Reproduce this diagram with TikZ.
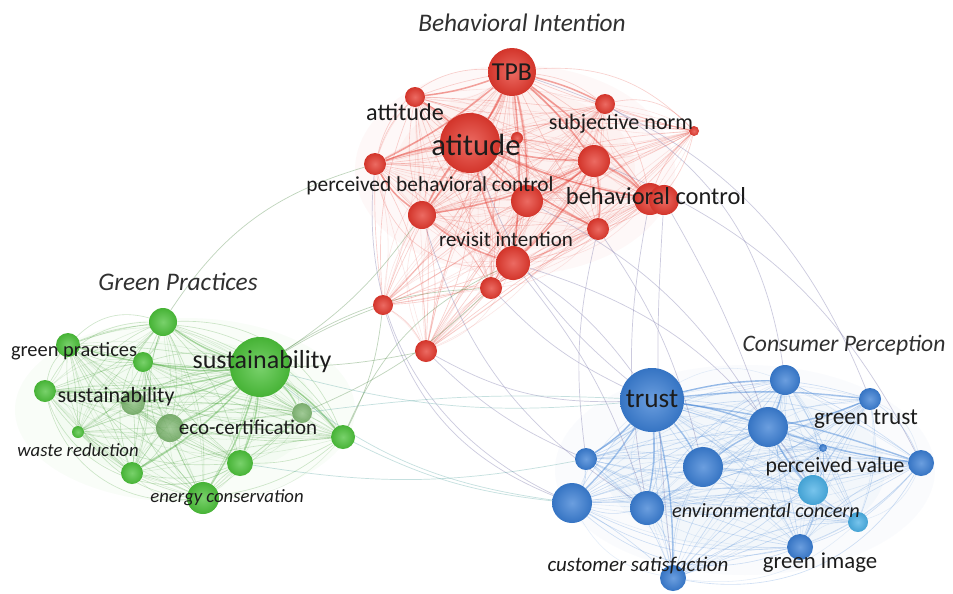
\documentclass[tikz,border=0pt]{standalone}
\usepackage{fontspec}
\setmainfont{Carlito}
\usetikzlibrary{calc}
\pgfdeclarelayer{paper}
\pgfdeclarelayer{background}
\pgfdeclarelayer{haze}
\pgfsetlayers{paper,haze,background,main}
\definecolor{redc}{HTML}{E5392E}
\definecolor{greenc}{HTML}{4CC23A}
\definecolor{bluec}{HTML}{3A7ED4}
\definecolor{lbluec}{HTML}{4AB0E6}
\definecolor{dimg}{HTML}{6FAE60}
\definecolor{txt}{HTML}{1C1C1C}
\definecolor{hd}{HTML}{303030}
\newcommand\fz[1]{\fontsize{#1pt}{#1pt}\selectfont}
\tikzset{
  ball/.style 2 args={circle,inner sep=0pt,minimum size=#2*0.025cm,
     shading=radial,inner color=#1!75!white,outer color=#1!92!black},
  rn/.style={ball={redc}{#1}},
  gn/.style={ball={greenc}{#1}},
  bn/.style={ball={bluec}{#1}},
  lbn/.style={ball={lbluec}{#1}},
  dgn/.style={ball={dimg}{#1},opacity=.85},
  redge/.style={draw=redc!85!white,opacity=.28,line width=.45pt},
  redge2/.style={draw=redc!80!white,opacity=.16,line width=.4pt},
  rhub/.style={draw=redc,opacity=.45,line width=1.1pt},
  gedge/.style={draw=greenc!80!black,opacity=.25,line width=.45pt},
  gedge2/.style={draw=greenc!80!black,opacity=.15,line width=.4pt},
  ghub/.style={draw=greenc!85!black,opacity=.4,line width=1pt},
  bedge/.style={draw=bluec!80!white,opacity=.3,line width=.45pt},
  bedge2/.style={draw=bluec!80!white,opacity=.17,line width=.4pt},
  bhub/.style={draw=bluec,opacity=.45,line width=1pt},
  xrb/.style={draw=bluec!70!redc,opacity=.35,line width=.5pt},
  xrg/.style={draw=greenc!60!black,opacity=.3,line width=.5pt},
  xgb/.style={draw=bluec!60!greenc,opacity=.3,line width=.5pt},
  lab/.style={text=txt,inner sep=0pt,anchor=center},
  head/.style={text=hd,inner sep=0pt,anchor=center,font=\itshape\fz{18}},
}
\begin{document}
\begin{tikzpicture}[x=0.025cm,y=-0.025cm]
\useasboundingbox (0,0) rectangle (953,593);
\begin{pgfonlayer}{paper}
\fill[white] (0,0) rectangle (953,593);
\end{pgfonlayer}
% ---------- red cluster nodes
\node[rn=48] (r1) at (512,72) {};
\node[rn=20] (r2) at (415,97) {};
\node[rn=60] (r3) at (470,143) {};
\node[rn=12] (r4) at (517,138) {};
\node[rn=20] (r5) at (605,104) {};
\node[rn=10] (r6) at (694,131) {};
\node[rn=22] (r7) at (375,164) {};
\node[rn=32] (r8) at (594,161) {};
\node[rn=32] (r9a) at (650,199) {};
\node[rn=30] (r9b) at (664,200) {};
\node[rn=32] (r10) at (527,201) {};
\node[rn=28] (r11) at (422,215) {};
\node[rn=22] (r12) at (598,229) {};
\node[rn=34] (r13) at (513,263) {};
\node[rn=22] (r14) at (491,288) {};
\node[rn=20] (r15) at (383,305) {};
\node[rn=22] (r16) at (426,351) {};
% ---------- green cluster nodes
\node[gn=28] (g1) at (163,322) {};
\node[gn=24] (g2) at (68,345) {};
\node[gn=20] (g3) at (143,362) {};
\node[gn=60] (g4) at (260,367) {};
\node[gn=22] (g5) at (45,391) {};
\node[dgn=24] (g6) at (133,403) {};
\node[dgn=28] (g7) at (170,428) {};
\node[dgn=20] (g8) at (302,413) {};
\node[gn=24] (g9) at (343,437) {};
\node[gn=12] (g10) at (78,432) {};
\node[gn=26] (g11) at (240,463) {};
\node[gn=22] (g12) at (132,473) {};
\node[gn=32] (g13) at (203,498) {};
% ---------- blue cluster nodes
\node[bn=64] (b1) at (652,400) {};
\node[bn=30] (b2) at (785,380) {};
\node[bn=22] (b3) at (870,399) {};
\node[bn=40] (b4) at (768,427) {};
\node[bn=8] (b5) at (823,448) {};
\node[bn=26] (b6) at (921,463) {};
\node[bn=22] (b7) at (586,459) {};
\node[bn=40] (b8) at (703,467) {};
\node[lbn=30] (b9) at (813,490) {};
\node[bn=40] (b10) at (572,503) {};
\node[bn=34] (b11) at (647,508) {};
\node[lbn=20] (b12) at (858,522) {};
\node[bn=26] (b13) at (800,547) {};
\node[bn=26] (b14) at (673,578) {};
% ---------- haze
\begin{pgfonlayer}{haze}
\fill[redc,opacity=.03] (515,170) ellipse [x radius=160,y radius=105];
\fill[redc,opacity=.03] (515,170) ellipse [x radius=120,y radius=80];
\fill[greenc,opacity=.03] (185,410) ellipse [x radius=170,y radius=92];
\fill[greenc,opacity=.03] (185,410) ellipse [x radius=130,y radius=70];
\fill[bluec,opacity=.025] (745,470) ellipse [x radius=190,y radius=105];
\fill[bluec,opacity=.03] (745,470) ellipse [x radius=140,y radius=80];
\end{pgfonlayer}
% ---------- edges
\begin{pgfonlayer}{background}
\foreach \a [count=\i] in {r1,r2,r3,r4,r5,r6,r7,r8,r9a,r10,r11,r12,r13,r14,r15,r16}{
  \foreach \b [count=\j] in {r1,r2,r3,r4,r5,r6,r7,r8,r9a,r10,r11,r12,r13,r14,r15,r16}{
    \ifnum\j>\i
      \pgfmathsetmacro\bd{mod(\i+2*\j,4)*9-13}
      \draw[redge] (\a) to[bend left=\bd] (\b);
      \pgfmathsetmacro\be{mod(3*\i+\j,5)*11-22}
      \draw[redge2] (\a) to[bend right=\be] (\b);
    \fi
  }
}
\foreach \b in {r2,r3,r5,r7,r8,r9a,r10,r11,r13}{\draw[rhub] (r1) to[bend left=6] (\b);}
\foreach \b in {r7,r8,r9a,r10,r11,r12,r13,r2}{\draw[rhub] (r3) to[bend right=6] (\b);}
\foreach \b in {r9a,r10,r11,r12,r13}{\draw[rhub] (r8) to[bend left=8] (\b);}
\draw[rhub] (r11) to[bend right=10] (r13);
\draw[rhub] (r7) to[bend right=12] (r11);
\draw[redge] (r5) to[bend left=30] (r6);
\draw[redge] (r1) to[bend left=25] (r6);
\draw[redge] (r7) to[bend left=40] (r1);
\draw[redge] (r7) to[bend right=45] (r13);
\draw[redge] (r6) to[bend left=30] (r12);
\foreach \a [count=\i] in {g1,g2,g3,g4,g5,g6,g7,g8,g9,g10,g11,g12,g13}{
  \foreach \b [count=\j] in {g1,g2,g3,g4,g5,g6,g7,g8,g9,g10,g11,g12,g13}{
    \ifnum\j>\i
      \pgfmathsetmacro\bd{mod(\i+2*\j,4)*10-15}
      \draw[gedge] (\a) to[bend left=\bd] (\b);
      \pgfmathsetmacro\be{mod(3*\i+\j,5)*12-24}
      \draw[gedge2] (\a) to[bend right=\be] (\b);
    \fi
  }
}
\foreach \b in {g1,g3,g6,g7,g8,g9,g11,g12,g13,g2,g5}{\draw[ghub] (g4) to[bend left=8] (\b);}
\foreach \b in {g2,g5,g12,g13,g10}{\draw[gedge] (g1) to[bend right=30] (\b);}
\draw[gedge] (g2) to[bend right=45] (g13);
\draw[gedge] (g5) to[bend right=40] (g13);
\draw[gedge] (g5) to[bend right=50] (g11);
\draw[gedge] (g2) to[bend left=40] (g9);
\draw[gedge] (g1) to[bend left=35] (g9);
\foreach \a [count=\i] in {b1,b2,b3,b4,b5,b6,b7,b8,b9,b10,b11,b12,b13,b14}{
  \foreach \b [count=\j] in {b1,b2,b3,b4,b5,b6,b7,b8,b9,b10,b11,b12,b13,b14}{
    \ifnum\j>\i
      \pgfmathsetmacro\bd{mod(\i+2*\j,4)*10-15}
      \draw[bedge] (\a) to[bend left=\bd] (\b);
      \pgfmathsetmacro\be{mod(3*\i+\j,5)*12-24}
      \draw[bedge2] (\a) to[bend right=\be] (\b);
    \fi
  }
}
\foreach \b in {b2,b4,b7,b8,b10,b11,b14,b6,b3}{\draw[bhub] (b1) to[bend left=6] (\b);}
\foreach \b in {b2,b3,b6,b8,b9}{\draw[bhub] (b4) to[bend right=6] (\b);}
\draw[bedge] (b10) to[bend right=40] (b6);
\draw[bedge] (b7) to[bend left=35] (b6);
\draw[bedge] (b10) to[bend right=30] (b13);
\draw[bedge] (b2) to[bend left=30] (b13);
\draw[bedge] (b14) to[bend right=35] (b6);
% inter-cluster
\draw[xrb] (r13) to[bend left=10] (b1);
\draw[xrb] (r14) to[bend right=10] (b1);
\draw[xrb] (r10) to[bend left=15] (b4);
\draw[xrb] (r12) to[bend left=10] (b8);
\draw[xrb] (r9b) to[bend left=5] (b4);
\draw[xrb] (r9b) to[bend right=5] (b14);
\draw[xrb] (r8) to[bend left=20] (b6);
\draw[xrb] (r11) to[bend right=20] (b11);
\draw[xrb] (r16) to[bend right=15] (b1);
\draw[xrb] (r15) to[bend right=25] (b10);
\draw[xrb] (r12) to[bend right=10] (b7);
\draw[xrb] (r5) to[bend left=25] (b2);
\draw[xrb] (r7) to[bend right=35] (b10);
\draw[xrb] (r13) to[bend left=20] (b9);
\draw[xrb] (r9a) to[bend right=10] (b11);
\draw[xrb] (r3) to[bend right=15] (b1);
\draw[xrb] (r1) to[bend left=25] (b3);
\draw[xrb] (r16) to[bend right=10] (b7);
\draw[xrg] (r15) to[bend right=5] (g4);
\draw[xrg] (r16) to[bend left=5] (g4);
\draw[xrg] (r14) to[bend right=15] (g4);
\draw[xrg] (r13) to[bend right=20] (g9);
\draw[xrg] (r7) to[bend right=20] (g1);
\draw[xrg] (r11) to[bend left=10] (g4);
\draw[xrg] (r15) to[bend left=10] (g9);
\draw[xrg] (r14) to[bend left=10] (g8);
\draw[xrb] (r13) to[bend left=10] (b11);
\draw[xgb] (g4) to[bend right=10] (b1);
\draw[xgb] (g4) to[bend right=15] (b10);
\draw[xgb] (g9) to[bend right=10] (b10);
\draw[xgb] (g11) to[bend right=10] (b7);
\draw[xgb] (g8) to[bend left=5] (b1);
\end{pgfonlayer}
% ---------- labels
\node[head] (hBI) at (522,23) {Behavioral Intention};
\node[head] (hGP) at (178,282) {Green Practices};
\node[head,font=\itshape\fz{16.8}] (hCP) at (844,345) {Consumer Perception};
\node[lab,font=\fz{18.4}] (lTPB) at (512,72) {TPB};
\node[lab,font=\fz{21.8}] (lati) at (476,145) {atitude};
\node[lab,font=\fz{17.2}] (latt) at (405,112) {attitude};
\node[lab,font=\fz{15.7}] (lsn) at (621,124) {subjective norm};
\node[lab,font=\fz{15.2}] (lpbc) at (430,186) {perceived behavioral control};
\node[lab,font=\fz{17.4}] (lbc) at (656,196) {behavioral control};
\node[lab,font=\fz{14.9}] (lri) at (506,239) {revisit intention};
\node[lab,font=\fz{14.5}] (lgp) at (74,351) {green practices};
\node[lab,font=\fz{18.5}] (lsus) at (262,362) {sustainability};
\node[lab,font=\fz{15.6}] (lsus2) at (116,397) {sustainability};
\node[lab,font=\fz{14.9}] (leco) at (248,427) {eco-certification};
\node[lab,font=\itshape\fz{13.3}] (lwr) at (78,450) {waste reduction};
\node[lab,font=\itshape\fz{13.3}] (lec) at (227,498) {energy conservation};
\node[lab,font=\fz{19.4}] (ltr) at (652,399) {trust};
\node[lab,font=\fz{16.5}] (lgt) at (866,419) {green trust};
\node[lab,font=\fz{15.5}] (lpv) at (835,467) {perceived value};
\node[lab,font=\itshape\fz{14.4}] (lenv) at (766,511) {environmental concern};
\node[lab,font=\itshape\fz{14.9}] (lcs) at (638,565) {customer satisfaction};
\node[lab,font=\fz{16.2}] (lgi) at (820,563) {green image};
\end{tikzpicture}
\end{document}
